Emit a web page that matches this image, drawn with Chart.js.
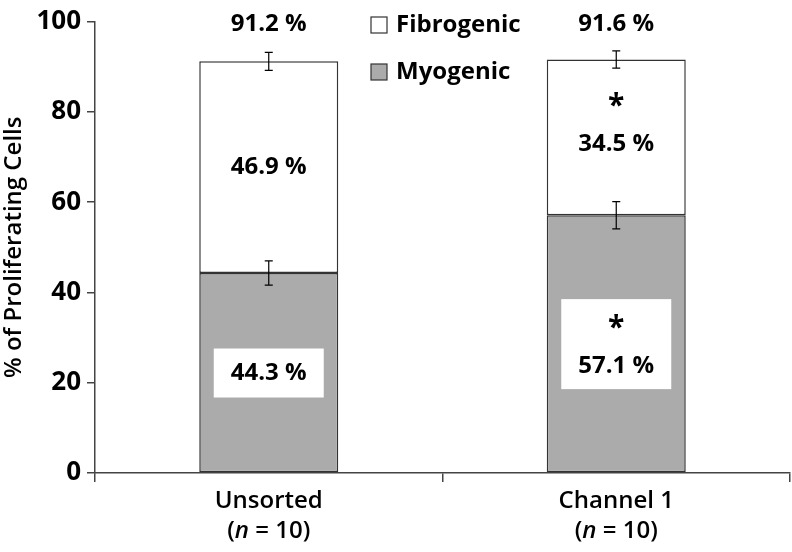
<!DOCTYPE html>
<html>
<head>
<meta charset="utf-8">
<script src="https://cdn.jsdelivr.net/npm/chart.js@4.4.1/dist/chart.umd.min.js"></script>
<style>
  html, body { margin: 0; padding: 0; background: #fff; }
  #wrap { width: 792px; height: 552px; }
</style>
</head>
<body>
<div id="wrap"><canvas id="c" width="792" height="552"></canvas></div>
<script>
// data
const groups = ['Unsorted', 'Channel 1'];
const groupN = [10, 10];
const myogenic = [44.3, 57.1];
const fibrogenic = [46.9, 34.5];
const totals = [91.2, 91.6];
const myoErr = [2.7, 3.0];
const totalErr = [2.0, 1.9];
const fibroStar = [false, true];
const myoStar = [false, true];
const yTicks = [0, 20, 40, 60, 80, 100];

const FONT = "'Open Sans', 'DejaVu Sans', sans-serif";
const EDGE = '#333';

// error bars, labels, legend and category names
const overlay = {
    id: 'overlay',
    afterDatasetsDraw(chart) {
        const ctx = chart.ctx;
        const x = chart.scales.x;
        const y = chart.scales.y;
        ctx.save();

        // error bars
        ctx.strokeStyle = '#000';
        ctx.lineWidth = 1.2;
        const errBar = (cx, v, e) => {
            const top = y.getPixelForValue(v + e);
            const bot = y.getPixelForValue(v - e);
            ctx.beginPath();
            ctx.moveTo(cx, top); ctx.lineTo(cx, bot);
            ctx.moveTo(cx - 4, top); ctx.lineTo(cx + 4, top);
            ctx.moveTo(cx - 4, bot); ctx.lineTo(cx + 4, bot);
            ctx.stroke();
        };
        groups.forEach((g, i) => {
            const cx = x.getPixelForValue(i);
            errBar(cx, totals[i], totalErr[i]);
            errBar(cx, myogenic[i], myoErr[i]);
        });

        ctx.textAlign = 'center';
        ctx.textBaseline = 'middle';
        ctx.fillStyle = '#000';
        const lineGap = 44;

        const drawLines = (cx, mid, lines) => {
            lines.forEach((t, k) => {
                const ly = mid + (k - (lines.length - 1) / 2) * lineGap;
                if (t === '*') {
                    ctx.font = 'bold 30px ' + FONT;
                    ctx.fillText(t, cx, ly + 6);
                } else {
                    ctx.font = 'bold 24px ' + FONT;
                    ctx.fillText(t, cx, ly);
                }
            });
        };

        groups.forEach((g, i) => {
            const cx = x.getPixelForValue(i);
            // total above bar
            ctx.font = 'bold 24px ' + FONT;
            ctx.fillText(totals[i].toFixed(1) + ' %', cx, y.getPixelForValue(100) + 3);

            // fibrogenic segment label
            const fMid = (y.getPixelForValue(myogenic[i]) + y.getPixelForValue(totals[i])) / 2 - (fibroStar[i] ? 15 : 0);
            const fLines = fibroStar[i] ? ['*', fibrogenic[i].toFixed(1) + ' %'] : [fibrogenic[i].toFixed(1) + ' %'];
            drawLines(cx, fMid, fLines);

            // myogenic segment label in white box
            const mMid = (y.getPixelForValue(0) + y.getPixelForValue(myogenic[i])) / 2;
            const mLines = myoStar[i] ? ['*', myogenic[i].toFixed(1) + ' %'] : [myogenic[i].toFixed(1) + ' %'];
            const bh = mLines.length === 1 ? 49 : 90;
            ctx.fillStyle = '#fff';
            ctx.fillRect(cx - 55, mMid - bh / 2, 110, bh);
            ctx.fillStyle = '#000';
            drawLines(cx, mMid, mLines);
        });

        // legend
        const legend = [['Fibrogenic', '#ffffff', 25], ['Myogenic', '#ababab', 72]];
        ctx.textAlign = 'left';
        legend.forEach(([name, col, ly]) => {
            ctx.fillStyle = col;
            ctx.fillRect(371, ly - 8, 16, 16);
            ctx.strokeStyle = EDGE;
            ctx.lineWidth = 1.2;
            ctx.strokeRect(371, ly - 8, 16, 16);
            ctx.fillStyle = '#000';
            ctx.font = 'bold 24px ' + FONT;
            ctx.fillText(name, 396, ly);
        });

        // category labels, "n" in italics
        const base = chart.chartArea.bottom;
        const reg = '600 24px ' + FONT;
        const ital = 'italic 600 24px ' + FONT;
        groups.forEach((g, i) => {
            const cx = x.getPixelForValue(i);
            ctx.textAlign = 'center';
            ctx.font = reg;
            ctx.fillText(g, cx, base + 28);
            const pre = '(', it = 'n', post = ' = ' + groupN[i] + ')';
            const w1 = ctx.measureText(pre).width;
            const w3 = ctx.measureText(post).width;
            ctx.font = ital;
            const w2 = ctx.measureText(it).width;
            const sx = cx - (w1 + w2 + w3) / 2;
            const ly = base + 58;
            ctx.textAlign = 'left';
            ctx.font = reg;
            ctx.fillText(pre, sx, ly);
            ctx.font = ital;
            ctx.fillText(it, sx + w1, ly);
            ctx.font = reg;
            ctx.fillText(post, sx + w1 + w2, ly);
        });

        ctx.restore();
    }
};

new Chart(document.getElementById('c'), {
    type: 'bar',
    data: {
        labels: groups,
        datasets: [
            {
                label: 'Myogenic',
                data: myogenic,
                backgroundColor: '#ababab',
                borderColor: EDGE,
                borderWidth: 1.5,
                borderSkipped: false,
                barPercentage: 0.4,
                categoryPercentage: 1
            },
            {
                label: 'Fibrogenic',
                data: fibrogenic,
                backgroundColor: '#ffffff',
                borderColor: EDGE,
                borderWidth: 1.5,
                borderSkipped: false,
                barPercentage: 0.4,
                categoryPercentage: 1
            }
        ]
    },
    options: {
        responsive: false,
        animation: false,
        layout: { padding: { top: 13, right: 2, left: 0, bottom: 0 } },
        plugins: {
            legend: { display: false },
            tooltip: { enabled: false }
        },
        scales: {
            x: {
                stacked: true,
                offset: true,
                grid: { display: true, drawOnChartArea: false, offset: true, tickLength: 9, color: '#444', lineWidth: 1.5 },
                border: { color: '#444', width: 1.5 },
                ticks: { display: false },
                afterFit(s) { s.height = 79; }
            },
            y: {
                stacked: true,
                min: 0,
                max: 100,
                afterBuildTicks(s) { s.ticks = yTicks.map(v => ({ value: v })); },
                ticks: { color: '#000', padding: 6, font: { family: FONT, size: 26, weight: 'bold' } },
                grid: { drawOnChartArea: false, tickLength: 8, color: '#444', lineWidth: 1.5 },
                border: { color: '#444', width: 1.5 },
                title: {
                    display: true,
                    text: '% of Proliferating Cells',
                    color: '#000',
                    padding: { top: 0, bottom: 0 },
                    font: { family: FONT, size: 24, weight: '600' }
                },
                afterFit(s) { s.width = 95; }
            }
        }
    },
    plugins: [overlay]
});
</script>
</body>
</html>
